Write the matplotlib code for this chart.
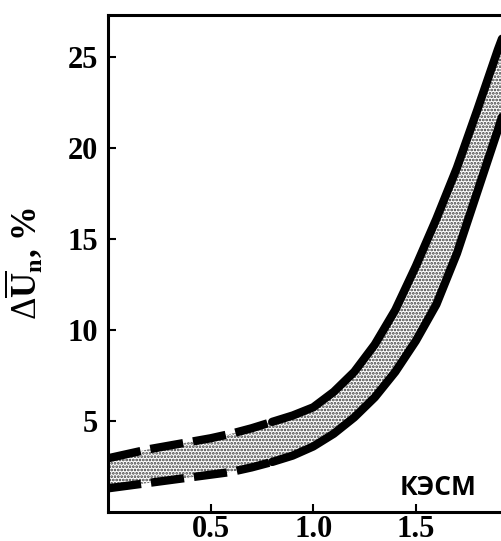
import numpy as np
import matplotlib
matplotlib.use('Agg')
import matplotlib.pyplot as plt

# band limits of the relative voltage deviation vs. load
x_vals = [0.0, 0.1, 0.2, 0.3, 0.4, 0.5, 0.6, 0.7, 0.8, 0.9, 1.0,
          1.1, 1.2, 1.3, 1.4, 1.5, 1.6, 1.7, 1.8, 1.9, 1.92]
upper = [2.95, 3.2, 3.45, 3.65, 3.85, 4.05, 4.3, 4.6, 4.95, 5.3, 5.75,
         6.6, 7.7, 9.2, 11.1, 13.5, 16.1, 18.9, 22.1, 25.4, 26.0]
lower = [1.3, 1.45, 1.6, 1.75, 1.9, 2.05, 2.2, 2.45, 2.75, 3.1, 3.6,
         4.3, 5.2, 6.3, 7.7, 9.4, 11.4, 14.2, 17.6, 21.0, 21.7]

x_ticks = [0.5, 1.0, 1.5]
y_ticks = [5, 10, 15, 20, 25]
label_text = 'КЭСМ'

plt.rcParams['mathtext.fontset'] = 'custom'
plt.rcParams['mathtext.rm'] = 'Liberation Serif'
plt.rcParams['mathtext.bf'] = 'Liberation Serif:bold'
plt.rcParams['hatch.linewidth'] = 1.3
plt.rcParams['hatch.color'] = '#3a3a3a'

fig = plt.figure(figsize=(5.01, 5.41), dpi=100)
ax = fig.add_axes([108/501, 29/541, 1 - 108/501, 497/541])

x = np.array(x_vals)
up = np.array(upper)
lo = np.array(lower)

ax.fill_between(x, lo, up, facecolor='white', edgecolor='#3a3a3a',
                hatch='.....', linewidth=0)

k = 9  # dashed part of the boundaries at light load
for y in (up, lo):
    ax.plot(x[:k], y[:k], color='black', lw=6, linestyle=(0, (4, 1.2)),
            dash_capstyle='butt', solid_capstyle='round')
    ax.plot(x[k-1:], y[k-1:], color='black', lw=6, solid_capstyle='round')

ax.set_xlim(0.0, 1.915)
ax.set_ylim(0.0, 27.3)
ax.set_xticks(x_ticks)
ax.set_xticklabels(['%.1f' % v for v in x_ticks])
ax.set_yticks(y_ticks)

for s in ['left', 'bottom', 'top']:
    ax.spines[s].set_linewidth(2.2)
ax.spines['right'].set_visible(False)

ax.tick_params(direction='in', length=6, width=1.5, pad=7,
               top=False, right=False)
ax.tick_params(axis='x', pad=2)
for lab in ax.get_xticklabels() + ax.get_yticklabels():
    lab.set_fontfamily('Liberation Serif')
    lab.set_fontweight('bold')
    lab.set_fontsize(22)

ax.set_ylabel(r'$\Delta\overline{\mathbf{U}}_{\mathbf{n}}$, %',
              fontfamily='Liberation Serif', fontweight='bold', fontsize=25)
ax.yaxis.set_label_coords(-0.16, 0.5)

ax.text(1.61, 1.35, label_text, fontfamily='Open Sans', fontweight='bold',
        fontsize=19, ha='center', va='center')

plt.savefig('out.png', dpi=100)
plt.close()
